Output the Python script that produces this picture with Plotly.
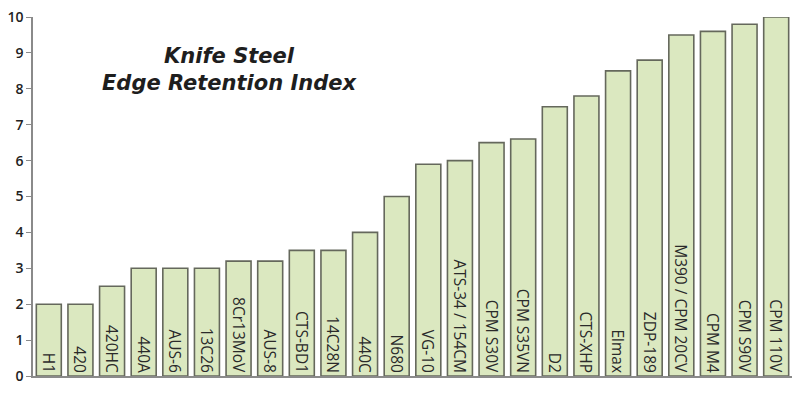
import plotly.graph_objects as go

steels = ["H1", "420", "420HC", "440A", "AUS-6", "13C26", "8Cr13MoV", "AUS-8",
          "CTS-BD1", "14C28N", "440C", "N680", "VG-10", "ATS-34 / 154CM",
          "CPM S30V", "CPM S35VN", "D2", "CTS-XHP", "Elmax", "ZDP-189",
          "M390 / CPM 20CV", "CPM M4", "CPM S90V", "CPM 110V"]
retention = [2, 2, 2.5, 3, 3, 3, 3.2, 3.2, 3.5, 3.5, 4, 5, 5.9, 6,
             6.5, 6.6, 7.5, 7.8, 8.5, 8.8, 9.5, 9.6, 9.8, 10]
y_ticks = [0, 1, 2, 3, 4, 5, 6, 7, 8, 9, 10]

fig = go.Figure()
fig.add_trace(go.Bar(
    x=steels,
    y=retention,
    text=steels,
    textposition="inside",
    insidetextanchor="start",
    textangle=90,
    constraintext="none",
    textfont=dict(family="Open Sans", size=15.5, color="#2a2a2a"),
    marker=dict(color="#dbe8c0", line=dict(color="#65685c", width=1.6)),
    cliponaxis=False,
))

# title inside the plot area
fig.add_annotation(
    text="Knife Steel<br>Edge Retention Index",
    xref="paper", yref="paper",
    x=0.26, y=0.855,
    xanchor="center", yanchor="middle",
    showarrow=False,
    align="center",
    font=dict(family="DejaVu Sans", size=21, color="#1e1e1e", weight="bold", style="italic"),
)

# page has an 8px body margin, so margins are shifted to compensate
fig.update_layout(
    width=800, height=400,
    margin=dict(l=25, r=16, t=9, b=32, autoexpand=False),
    paper_bgcolor="white",
    plot_bgcolor="white",
    showlegend=False,
    bargap=0.21,
)
fig.update_xaxes(showticklabels=False, showline=True, linecolor="#8a8a8a",
                 linewidth=2, showgrid=False, ticks="", automargin=False)
fig.update_yaxes(range=[0, 10], tickvals=y_ticks, showline=True, linecolor="#8a8a8a",
                 linewidth=1.5, showgrid=False, zeroline=False, ticks="outside",
                 ticklen=5, tickcolor="#8a8a8a", automargin=False,
                 ticklabeloverflow="allow",
                 tickfont=dict(family="Open Sans", size=14, color="#222222", weight=600))

fig.write_html("out.html")
